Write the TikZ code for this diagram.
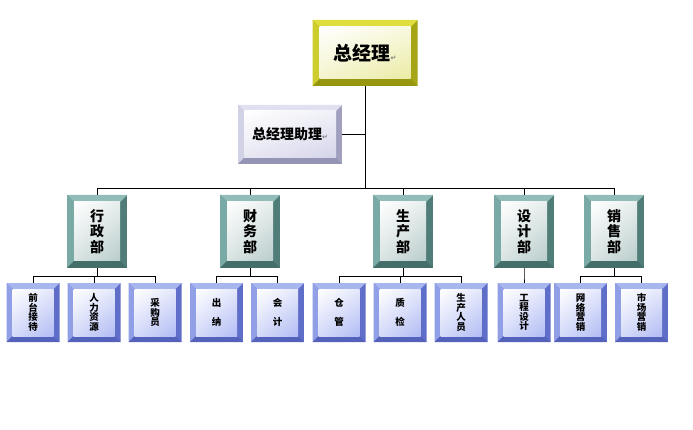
\documentclass[tikz,border=0pt]{standalone}
\usepackage{fontspec}
\usetikzlibrary{shadings}
\newfontfamily\cjk{Noto Sans CJK SC}
\newfontfamily\symfont{DejaVu Sans}
\newcommand\retmark{{\symfont\color{gray}\fontsize{7}{7}\selectfont ↵}}
% bevel colours: T top, L left, R right, B bottom, I inner tint
\definecolor{gmT}{RGB}{222,222,62}
\definecolor{gmL}{RGB}{205,205,45}
\definecolor{gmR}{RGB}{165,165,22}
\definecolor{gmB}{RGB}{150,150,15}
\definecolor{gmI}{RGB}{235,235,165}
\definecolor{asT}{RGB}{224,224,240}
\definecolor{asL}{RGB}{210,210,230}
\definecolor{asR}{RGB}{160,160,190}
\definecolor{asB}{RGB}{148,148,180}
\definecolor{asI}{RGB}{212,212,234}
\definecolor{dpT}{RGB}{145,188,183}
\definecolor{dpL}{RGB}{122,170,165}
\definecolor{dpR}{RGB}{80,125,120}
\definecolor{dpB}{RGB}{68,110,105}
\definecolor{dpI}{RGB}{185,205,203}
\definecolor{stT}{RGB}{168,182,240}
\definecolor{stL}{RGB}{145,160,230}
\definecolor{stR}{RGB}{95,110,200}
\definecolor{stB}{RGB}{84,98,188}
\definecolor{stI}{RGB}{178,188,244}
\tikzset{
  bevel width/.store in=\bw, bevel width=6pt,
  bevelbox/.style={
    fill=white, inner sep=0pt, align=center,
    path picture={
      \path (path picture bounding box.north west) coordinate (bnw)
            (path picture bounding box.north east) coordinate (bne)
            (path picture bounding box.south west) coordinate (bsw)
            (path picture bounding box.south east) coordinate (bse)
            ([shift={(\bw,-\bw)}]path picture bounding box.north west) coordinate (inw)
            ([shift={(-\bw,-\bw)}]path picture bounding box.north east) coordinate (ine)
            ([shift={(\bw,\bw)}]path picture bounding box.south west) coordinate (isw)
            ([shift={(-\bw,\bw)}]path picture bounding box.south east) coordinate (ise);
      \fill[#1R] (bsw) rectangle (bne);
      \fill[#1T] (bnw) -- (bne) -- (ine) -- (inw) -- cycle;
      \fill[#1L] (bnw) -- (inw) -- (isw) -- (bsw) -- cycle;
      \fill[#1B] (bsw) -- (isw) -- (ise) -- (bse) -- cycle;
      \shade[upper left=white, upper right=#1I!35, lower left=#1I!55, lower right=#1I] (isw) rectangle (ine);
    }},
  gm/.style={bevelbox=gm, bevel width=7pt, minimum width=105pt, minimum height=66pt,
    font=\cjk\bfseries\fontsize{19}{19}\selectfont},
  asst/.style={bevelbox=as, bevel width=6pt, minimum width=104pt, minimum height=59pt,
    font=\cjk\bfseries\fontsize{14}{14}\selectfont},
  dept/.style={bevelbox=dp, bevel width=7pt, minimum width=60pt, minimum height=73pt,
    font=\cjk\bfseries\fontsize{14}{15.5}\selectfont},
  staff/.style={bevelbox=st, bevel width=6pt, minimum width=53pt, minimum height=59pt,
    font=\cjk\bfseries\fontsize{9.5}{9.5}\selectfont}
}
\begin{document}
\begin{tikzpicture}
[x=1pt,y=1pt,line width=0.8pt,grow=down,
level 1/.style={level distance=178.5pt,sibling distance=128pt,
  edge from parent path={(\tikzparentnode.south) -- ++(0,-102pt) -| (\tikzchildnode.north)}},
level 2/.style={level distance=81pt,sibling distance=61pt,
  every child node/.style={xshift=-3pt},
  edge from parent path={(\tikzparentnode.south) -- ++(0,-8pt) -| (\tikzchildnode.north)}}]
\useasboundingbox (0,0) rectangle (693,-430);
\node[gm] (gm) at (365,-53) {总经理\retmark} % root
child[xshift=-12pt] {
  node[dept] (xz) {行\\政\\部}
    child {node[staff] (qt) {前\\台\\接\\待}}
    child {node[staff] (rl) {人\\力\\资\\源}}
    child {node[staff] (cg) {采\\购\\员}}
}
child[xshift=13pt] {
  node[dept] (cw) {财\\务\\部}
    child {node[staff] (cn) {出\\[9.5pt]纳}}
    child {node[staff] (kj) {会\\[9.5pt]计}}
}
child[xshift=38pt] {
  node[dept] (sc) {生\\产\\部}
    child {node[staff] (cgl) {仓\\[9.5pt]管}}
    child {node[staff] (zj) {质\\[9.5pt]检}}
    child {node[staff] (ry) {生\\产\\人\\员}}
}
child[xshift=31pt] {
  node[dept] (sj) {设\\计\\部}
    child[xshift=3pt] {node[staff] (gc) {工\\程\\设\\计}}
}
child[xshift=-7pt] {
  node[dept] (xs) {销\\售\\部}
    child {node[staff] (wl) {网\\络\\营\\销}}
    child {node[staff] (scy) {市\\场\\营\\销}}
};
\node[asst] (as) at (290,-134.5) {总经理助理\retmark};
\draw (as.east) -- (as.east -| gm.south);
\end{tikzpicture}
\end{document}
